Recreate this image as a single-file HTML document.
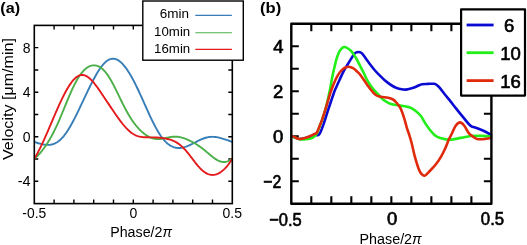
<!DOCTYPE html>
<html><head><meta charset="utf-8">
<style>
html,body{margin:0;padding:0;background:#fff;}
body{width:527px;height:245px;overflow:hidden;}
svg{display:block;font-family:"Liberation Sans", sans-serif;will-change:transform;}
</style></head><body>
<svg width="527" height="245" viewBox="0 0 527 245">
<rect width="527" height="245" fill="#fff"/>
<!-- Plot A -->
<path d="M54.10,203.60V199.60 M54.10,25.40V29.40 M73.90,203.60V199.60 M73.90,25.40V29.40 M93.70,203.60V199.60 M93.70,25.40V29.40 M113.50,203.60V199.60 M113.50,25.40V29.40 M133.30,203.60V199.60 M133.30,25.40V29.40 M153.10,203.60V199.60 M153.10,25.40V29.40 M172.90,203.60V199.60 M172.90,25.40V29.40 M192.70,203.60V199.60 M192.70,25.40V29.40 M212.50,203.60V199.60 M212.50,25.40V29.40 M34.30,47.67H38.30 M232.30,47.67H228.30 M34.30,69.95H38.30 M232.30,69.95H228.30 M34.30,92.22H38.30 M232.30,92.22H228.30 M34.30,114.50H38.30 M232.30,114.50H228.30 M34.30,136.78H38.30 M232.30,136.78H228.30 M34.30,159.05H38.30 M232.30,159.05H228.30 M34.30,181.32H38.30 M232.30,181.32H228.30" stroke="#000" stroke-width="1.4" fill="none"/>
<g fill="none" stroke-linejoin="round" stroke-linecap="butt">
<path d="M34.30,141.91 L35.13,142.18 L35.96,142.46 L36.79,142.72 L37.61,142.98 L38.44,143.23 L39.27,143.47 L40.10,143.69 L40.93,143.91 L41.76,144.10 L42.58,144.28 L43.41,144.44 L44.24,144.58 L45.07,144.69 L45.90,144.78 L46.73,144.84 L47.56,144.87 L48.38,144.87 L49.21,144.83 L50.04,144.75 L50.87,144.64 L51.70,144.47 L52.53,144.27 L53.35,144.01 L54.18,143.70 L55.01,143.34 L55.84,142.93 L56.67,142.46 L57.50,141.93 L58.33,141.34 L59.15,140.70 L59.98,139.99 L60.81,139.22 L61.64,138.40 L62.47,137.51 L63.30,136.56 L64.12,135.55 L64.95,134.48 L65.78,133.36 L66.61,132.18 L67.44,130.95 L68.27,129.66 L69.09,128.33 L69.92,126.95 L70.75,125.52 L71.58,124.06 L72.41,122.55 L73.24,121.01 L74.07,119.43 L74.89,117.83 L75.72,116.19 L76.55,114.53 L77.38,112.85 L78.21,111.15 L79.04,109.43 L79.86,107.70 L80.69,105.96 L81.52,104.21 L82.35,102.45 L83.18,100.69 L84.01,98.93 L84.84,97.17 L85.66,95.41 L86.49,93.66 L87.32,91.92 L88.15,90.20 L88.98,88.49 L89.81,86.79 L90.63,85.12 L91.46,83.47 L92.29,81.85 L93.12,80.25 L93.95,78.69 L94.78,77.17 L95.61,75.68 L96.43,74.24 L97.26,72.84 L98.09,71.49 L98.92,70.19 L99.75,68.95 L100.58,67.77 L101.40,66.64 L102.23,65.58 L103.06,64.59 L103.89,63.67 L104.72,62.82 L105.55,62.04 L106.38,61.34 L107.20,60.72 L108.03,60.18 L108.86,59.72 L109.69,59.34 L110.52,59.05 L111.35,58.84 L112.17,58.71 L113.00,58.67 L113.83,58.71 L114.66,58.83 L115.49,59.03 L116.32,59.32 L117.15,59.68 L117.97,60.13 L118.80,60.65 L119.63,61.24 L120.46,61.91 L121.29,62.65 L122.12,63.46 L122.94,64.34 L123.77,65.28 L124.60,66.29 L125.43,67.35 L126.26,68.48 L127.09,69.66 L127.92,70.90 L128.74,72.19 L129.57,73.53 L130.40,74.92 L131.23,76.35 L132.06,77.83 L132.89,79.35 L133.71,80.92 L134.54,82.52 L135.37,84.15 L136.20,85.82 L137.03,87.52 L137.86,89.25 L138.68,91.01 L139.51,92.79 L140.34,94.59 L141.17,96.41 L142.00,98.24 L142.83,100.08 L143.66,101.93 L144.48,103.79 L145.31,105.65 L146.14,107.50 L146.97,109.35 L147.80,111.19 L148.63,113.01 L149.45,114.81 L150.28,116.60 L151.11,118.35 L151.94,120.08 L152.77,121.78 L153.60,123.44 L154.43,125.05 L155.25,126.63 L156.08,128.16 L156.91,129.64 L157.74,131.07 L158.57,132.44 L159.40,133.76 L160.22,135.02 L161.05,136.23 L161.88,137.37 L162.71,138.45 L163.54,139.47 L164.37,140.43 L165.20,141.33 L166.02,142.17 L166.85,142.95 L167.68,143.66 L168.51,144.32 L169.34,144.91 L170.17,145.45 L170.99,145.93 L171.82,146.36 L172.65,146.73 L173.48,147.05 L174.31,147.32 L175.14,147.54 L175.97,147.72 L176.79,147.85 L177.62,147.93 L178.45,147.97 L179.28,147.97 L180.11,147.93 L180.94,147.85 L181.76,147.73 L182.59,147.58 L183.42,147.40 L184.25,147.19 L185.08,146.95 L185.91,146.68 L186.74,146.38 L187.56,146.06 L188.39,145.72 L189.22,145.36 L190.05,144.98 L190.88,144.58 L191.71,144.18 L192.53,143.76 L193.36,143.33 L194.19,142.90 L195.02,142.47 L195.85,142.04 L196.68,141.61 L197.51,141.18 L198.33,140.76 L199.16,140.36 L199.99,139.96 L200.82,139.58 L201.65,139.22 L202.48,138.88 L203.30,138.56 L204.13,138.26 L204.96,137.99 L205.79,137.74 L206.62,137.52 L207.45,137.33 L208.27,137.17 L209.10,137.04 L209.93,136.94 L210.76,136.87 L211.59,136.83 L212.42,136.82 L213.25,136.83 L214.07,136.88 L214.90,136.95 L215.73,137.05 L216.56,137.17 L217.39,137.31 L218.22,137.47 L219.04,137.65 L219.87,137.85 L220.70,138.07 L221.53,138.30 L222.36,138.54 L223.19,138.80 L224.02,139.06 L224.84,139.33 L225.67,139.61 L226.50,139.89 L227.33,140.18 L228.16,140.47 L228.99,140.76 L229.81,141.05 L230.64,141.34 L231.47,141.62 L232.30,141.91" stroke="#377eb8" stroke-width="1.9"/>
<path d="M34.30,158.65 L35.13,157.99 L35.96,157.29 L36.79,156.53 L37.61,155.73 L38.44,154.88 L39.27,153.99 L40.10,153.06 L40.93,152.09 L41.76,151.08 L42.58,150.03 L43.41,148.94 L44.24,147.81 L45.07,146.65 L45.90,145.44 L46.73,144.20 L47.56,142.92 L48.38,141.59 L49.21,140.22 L50.04,138.81 L50.87,137.36 L51.70,135.86 L52.53,134.31 L53.35,132.72 L54.18,131.08 L55.01,129.40 L55.84,127.67 L56.67,125.90 L57.50,124.09 L58.33,122.24 L59.15,120.35 L59.98,118.43 L60.81,116.48 L61.64,114.50 L62.47,112.50 L63.30,110.48 L64.12,108.46 L64.95,106.43 L65.78,104.39 L66.61,102.37 L67.44,100.36 L68.27,98.36 L69.09,96.40 L69.92,94.46 L70.75,92.56 L71.58,90.70 L72.41,88.88 L73.24,87.12 L74.07,85.42 L74.89,83.77 L75.72,82.19 L76.55,80.67 L77.38,79.22 L78.21,77.85 L79.04,76.54 L79.86,75.31 L80.69,74.15 L81.52,73.07 L82.35,72.06 L83.18,71.13 L84.01,70.26 L84.84,69.47 L85.66,68.75 L86.49,68.11 L87.32,67.53 L88.15,67.02 L88.98,66.58 L89.81,66.20 L90.63,65.90 L91.46,65.66 L92.29,65.48 L93.12,65.38 L93.95,65.34 L94.78,65.36 L95.61,65.46 L96.43,65.62 L97.26,65.86 L98.09,66.16 L98.92,66.54 L99.75,66.99 L100.58,67.52 L101.40,68.12 L102.23,68.79 L103.06,69.54 L103.89,70.37 L104.72,71.27 L105.55,72.24 L106.38,73.29 L107.20,74.41 L108.03,75.60 L108.86,76.86 L109.69,78.18 L110.52,79.57 L111.35,81.00 L112.17,82.50 L113.00,84.03 L113.83,85.61 L114.66,87.23 L115.49,88.88 L116.32,90.55 L117.15,92.24 L117.97,93.95 L118.80,95.66 L119.63,97.38 L120.46,99.09 L121.29,100.79 L122.12,102.47 L122.94,104.14 L123.77,105.78 L124.60,107.39 L125.43,108.97 L126.26,110.51 L127.09,112.02 L127.92,113.48 L128.74,114.91 L129.57,116.29 L130.40,117.63 L131.23,118.92 L132.06,120.17 L132.89,121.37 L133.71,122.53 L134.54,123.65 L135.37,124.72 L136.20,125.75 L137.03,126.74 L137.86,127.69 L138.68,128.60 L139.51,129.48 L140.34,130.31 L141.17,131.11 L142.00,131.87 L142.83,132.59 L143.66,133.28 L144.48,133.93 L145.31,134.55 L146.14,135.13 L146.97,135.67 L147.80,136.17 L148.63,136.63 L149.45,137.05 L150.28,137.44 L151.11,137.78 L151.94,138.08 L152.77,138.35 L153.60,138.57 L154.43,138.75 L155.25,138.89 L156.08,138.99 L156.91,139.06 L157.74,139.09 L158.57,139.08 L159.40,139.05 L160.22,138.98 L161.05,138.89 L161.88,138.77 L162.71,138.64 L163.54,138.48 L164.37,138.32 L165.20,138.15 L166.02,137.97 L166.85,137.79 L167.68,137.61 L168.51,137.44 L169.34,137.28 L170.17,137.13 L170.99,137.00 L171.82,136.89 L172.65,136.80 L173.48,136.73 L174.31,136.69 L175.14,136.67 L175.97,136.69 L176.79,136.73 L177.62,136.80 L178.45,136.90 L179.28,137.03 L180.11,137.19 L180.94,137.37 L181.76,137.58 L182.59,137.81 L183.42,138.07 L184.25,138.35 L185.08,138.65 L185.91,138.97 L186.74,139.31 L187.56,139.66 L188.39,140.04 L189.22,140.42 L190.05,140.82 L190.88,141.24 L191.71,141.67 L192.53,142.11 L193.36,142.56 L194.19,143.03 L195.02,143.52 L195.85,144.01 L196.68,144.53 L197.51,145.06 L198.33,145.60 L199.16,146.16 L199.99,146.74 L200.82,147.34 L201.65,147.95 L202.48,148.57 L203.30,149.22 L204.13,149.87 L204.96,150.55 L205.79,151.23 L206.62,151.92 L207.45,152.61 L208.27,153.31 L209.10,154.01 L209.93,154.71 L210.76,155.40 L211.59,156.08 L212.42,156.74 L213.25,157.39 L214.07,158.00 L214.90,158.59 L215.73,159.15 L216.56,159.66 L217.39,160.14 L218.22,160.57 L219.04,160.94 L219.87,161.27 L220.70,161.53 L221.53,161.74 L222.36,161.89 L223.19,161.97 L224.02,161.99 L224.84,161.94 L225.67,161.83 L226.50,161.65 L227.33,161.40 L228.16,161.10 L228.99,160.73 L229.81,160.29 L230.64,159.80 L231.47,159.25 L232.30,158.65" stroke="#4daf4a" stroke-width="1.9"/>
<path d="M34.30,158.73 L35.13,157.37 L35.96,155.95 L36.79,154.48 L37.61,152.96 L38.44,151.40 L39.27,149.79 L40.10,148.14 L40.93,146.45 L41.76,144.71 L42.58,142.95 L43.41,141.15 L44.24,139.32 L45.07,137.47 L45.90,135.59 L46.73,133.70 L47.56,131.78 L48.38,129.86 L49.21,127.92 L50.04,125.97 L50.87,124.03 L51.70,122.08 L52.53,120.13 L53.35,118.19 L54.18,116.25 L55.01,114.33 L55.84,112.42 L56.67,110.53 L57.50,108.65 L58.33,106.79 L59.15,104.96 L59.98,103.16 L60.81,101.38 L61.64,99.64 L62.47,97.93 L63.30,96.26 L64.12,94.63 L64.95,93.04 L65.78,91.50 L66.61,90.01 L67.44,88.57 L68.27,87.18 L69.09,85.86 L69.92,84.59 L70.75,83.39 L71.58,82.26 L72.41,81.21 L73.24,80.22 L74.07,79.32 L74.89,78.49 L75.72,77.75 L76.55,77.09 L77.38,76.53 L78.21,76.04 L79.04,75.65 L79.86,75.35 L80.69,75.14 L81.52,75.03 L82.35,75.00 L83.18,75.06 L84.01,75.22 L84.84,75.46 L85.66,75.78 L86.49,76.19 L87.32,76.67 L88.15,77.24 L88.98,77.87 L89.81,78.57 L90.63,79.34 L91.46,80.17 L92.29,81.05 L93.12,81.99 L93.95,82.97 L94.78,83.99 L95.61,85.06 L96.43,86.15 L97.26,87.28 L98.09,88.43 L98.92,89.60 L99.75,90.79 L100.58,92.00 L101.40,93.21 L102.23,94.44 L103.06,95.68 L103.89,96.92 L104.72,98.16 L105.55,99.41 L106.38,100.66 L107.20,101.90 L108.03,103.15 L108.86,104.39 L109.69,105.63 L110.52,106.87 L111.35,108.10 L112.17,109.33 L113.00,110.55 L113.83,111.76 L114.66,112.97 L115.49,114.17 L116.32,115.35 L117.15,116.53 L117.97,117.69 L118.80,118.84 L119.63,119.96 L120.46,121.07 L121.29,122.16 L122.12,123.22 L122.94,124.26 L123.77,125.26 L124.60,126.24 L125.43,127.18 L126.26,128.08 L127.09,128.94 L127.92,129.77 L128.74,130.55 L129.57,131.29 L130.40,131.98 L131.23,132.63 L132.06,133.23 L132.89,133.78 L133.71,134.28 L134.54,134.74 L135.37,135.16 L136.20,135.52 L137.03,135.85 L137.86,136.13 L138.68,136.38 L139.51,136.59 L140.34,136.77 L141.17,136.91 L142.00,137.03 L142.83,137.12 L143.66,137.19 L144.48,137.24 L145.31,137.28 L146.14,137.30 L146.97,137.32 L147.80,137.32 L148.63,137.33 L149.45,137.33 L150.28,137.33 L151.11,137.33 L151.94,137.34 L152.77,137.35 L153.60,137.37 L154.43,137.39 L155.25,137.42 L156.08,137.46 L156.91,137.51 L157.74,137.57 L158.57,137.63 L159.40,137.71 L160.22,137.79 L161.05,137.88 L161.88,137.99 L162.71,138.10 L163.54,138.22 L164.37,138.35 L165.20,138.49 L166.02,138.65 L166.85,138.82 L167.68,139.01 L168.51,139.21 L169.34,139.43 L170.17,139.67 L170.99,139.93 L171.82,140.22 L172.65,140.54 L173.48,140.88 L174.31,141.26 L175.14,141.67 L175.97,142.12 L176.79,142.60 L177.62,143.12 L178.45,143.69 L179.28,144.29 L180.11,144.94 L180.94,145.63 L181.76,146.37 L182.59,147.15 L183.42,147.97 L184.25,148.83 L185.08,149.73 L185.91,150.66 L186.74,151.63 L187.56,152.63 L188.39,153.65 L189.22,154.70 L190.05,155.76 L190.88,156.84 L191.71,157.92 L192.53,159.01 L193.36,160.10 L194.19,161.18 L195.02,162.24 L195.85,163.29 L196.68,164.32 L197.51,165.32 L198.33,166.29 L199.16,167.22 L199.99,168.11 L200.82,168.96 L201.65,169.75 L202.48,170.50 L203.30,171.20 L204.13,171.84 L204.96,172.42 L205.79,172.94 L206.62,173.40 L207.45,173.81 L208.27,174.15 L209.10,174.43 L209.93,174.64 L210.76,174.80 L211.59,174.90 L212.42,174.93 L213.25,174.91 L214.07,174.82 L214.90,174.68 L215.73,174.48 L216.56,174.22 L217.39,173.91 L218.22,173.53 L219.04,173.11 L219.87,172.62 L220.70,172.09 L221.53,171.49 L222.36,170.84 L223.19,170.14 L224.02,169.38 L224.84,168.57 L225.67,167.70 L226.50,166.77 L227.33,165.79 L228.16,164.75 L228.99,163.66 L229.81,162.51 L230.64,161.30 L231.47,160.05 L232.30,158.73" stroke="#e41a1c" stroke-width="1.9"/>
</g>
<rect x="34.3" y="25.4" width="198.00" height="178.20" fill="none" stroke="#000" stroke-width="1.6"/>
<g font-size="14" fill="#000">
<text x="34.3" y="218.2" text-anchor="middle" textLength="23.9" lengthAdjust="spacingAndGlyphs">-0.5</text>
<text x="133.30" y="218.2" text-anchor="middle">0</text>
<text x="232.3" y="218.2" text-anchor="middle">0.5</text>
<text x="30.6" y="52.77" text-anchor="end">8</text>
<text x="30.6" y="97.32" text-anchor="end">4</text>
<text x="30.6" y="141.88" text-anchor="end">0</text>
<text x="30.6" y="186.42" text-anchor="end" textLength="12.9" lengthAdjust="spacingAndGlyphs">-4</text>
</g>
<text x="110.2" y="236.6" font-size="14" textLength="61.8" lengthAdjust="spacingAndGlyphs">Phase/2<tspan font-style="italic">π</tspan></text>
<text transform="translate(12.6,99) rotate(-90)" text-anchor="middle" font-size="15" textLength="122" lengthAdjust="spacingAndGlyphs">Velocity [μm/min]</text>
<text x="0.3" y="13.0" font-size="13.9" font-weight="bold" textLength="19.8" lengthAdjust="spacingAndGlyphs">(a)</text>
<!-- legend A -->
<rect x="142.8" y="1" width="100.5" height="59.2" fill="#fff" stroke="#000" stroke-width="1.4"/>
<g font-size="13.3" text-anchor="end">
<text x="189" y="18" textLength="29.3" lengthAdjust="spacingAndGlyphs">6min</text>
<text x="190.2" y="36.1" textLength="36.1" lengthAdjust="spacingAndGlyphs">10min</text>
<text x="190.2" y="52.6" textLength="36.1" lengthAdjust="spacingAndGlyphs">16min</text>
</g>
<path d="M195.3,15.4H231.9" stroke="#377eb8" stroke-width="1.15"/>
<path d="M195.3,32.7H231.9" stroke="#4daf4a" stroke-width="1.15"/>
<path d="M195.3,49.4H231.9" stroke="#e41a1c" stroke-width="1.15"/>

<!-- Plot B -->
<path d="M311.31,203.70V196.20 M311.31,23.80V31.30 M331.32,203.70V196.20 M331.32,23.80V31.30 M351.33,203.70V196.20 M351.33,23.80V31.30 M371.34,203.70V196.20 M371.34,23.80V31.30 M391.35,203.70V196.20 M391.35,23.80V31.30 M411.36,203.70V196.20 M411.36,23.80V31.30 M431.37,203.70V196.20 M431.37,23.80V31.30 M451.38,203.70V196.20 M451.38,23.80V31.30 M471.39,203.70V196.20 M471.39,23.80V31.30 M291.30,46.29H298.80 M491.40,46.29H483.90 M291.30,68.77H298.80 M491.40,68.77H483.90 M291.30,91.26H298.80 M491.40,91.26H483.90 M291.30,113.75H298.80 M491.40,113.75H483.90 M291.30,136.24H298.80 M491.40,136.24H483.90 M291.30,158.72H298.80 M491.40,158.72H483.90 M291.30,181.21H298.80 M491.40,181.21H483.90" stroke="#000" stroke-width="2.1" fill="none" stroke-linecap="butt"/>
<g fill="none" stroke-linejoin="round" stroke-linecap="round">
<path d="M291.50,136.30 C292.83,136.75 297.15,138.72 299.50,139.00 C301.85,139.28 303.77,138.45 305.60,138.00 C307.43,137.55 309.02,136.83 310.50,136.30 C311.98,135.77 313.05,135.12 314.50,134.80 C315.95,134.48 317.70,136.13 319.20,134.40 C320.70,132.67 322.10,128.22 323.50,124.40 C324.90,120.58 326.30,115.48 327.60,111.50 C328.90,107.52 330.28,103.50 331.30,100.50 C332.32,97.50 333.00,95.45 333.70,93.50 C334.40,91.55 334.53,91.05 335.50,88.80 C336.47,86.55 338.20,82.83 339.50,80.00 C340.80,77.17 342.00,74.30 343.30,71.80 C344.60,69.30 345.98,67.20 347.30,65.00 C348.62,62.80 350.00,60.50 351.20,58.60 C352.40,56.70 353.53,54.67 354.50,53.60 C355.47,52.53 356.08,52.43 357.00,52.20 C357.92,51.97 359.13,51.97 360.00,52.20 C360.87,52.43 361.20,52.50 362.20,53.60 C363.20,54.70 364.73,57.07 366.00,58.80 C367.27,60.53 368.30,62.05 369.80,64.00 C371.30,65.95 373.23,68.47 375.00,70.50 C376.77,72.53 378.73,74.53 380.40,76.20 C382.07,77.87 383.45,79.18 385.00,80.50 C386.55,81.82 388.05,82.98 389.70,84.10 C391.35,85.22 393.18,86.40 394.90,87.20 C396.62,88.00 398.15,88.50 400.00,88.90 C401.85,89.30 403.77,89.78 406.00,89.60 C408.23,89.42 411.40,88.43 413.40,87.80 C415.40,87.17 416.57,86.40 418.00,85.80 C419.43,85.20 420.33,84.52 422.00,84.20 C423.67,83.88 425.97,83.97 428.00,83.90 C430.03,83.83 432.70,83.57 434.20,83.80 C435.70,84.03 436.03,84.57 437.00,85.30 C437.97,86.03 438.62,86.58 440.00,88.20 C441.38,89.82 443.55,92.80 445.30,95.00 C447.05,97.20 448.65,99.08 450.50,101.40 C452.35,103.72 454.33,106.32 456.40,108.90 C458.47,111.48 460.87,114.40 462.90,116.90 C464.93,119.40 467.17,122.32 468.60,123.90 C470.03,125.48 470.43,125.80 471.50,126.40 C472.57,127.00 473.42,126.95 475.00,127.50 C476.58,128.05 479.17,128.95 481.00,129.70 C482.83,130.45 484.32,131.15 486.00,132.00 C487.68,132.85 490.25,134.33 491.10,134.80" stroke="#0a0ad2" stroke-width="2.6"/>
<path d="M291.50,136.20 C292.83,136.70 297.15,138.68 299.50,139.20 C301.85,139.72 303.77,139.40 305.60,139.30 C307.43,139.20 309.10,139.02 310.50,138.60 C311.90,138.18 312.93,137.65 314.00,136.80 C315.07,135.95 315.97,135.22 316.90,133.50 C317.83,131.78 318.68,128.92 319.60,126.50 C320.52,124.08 321.28,122.42 322.40,119.00 C323.52,115.58 325.27,109.83 326.30,106.00 C327.33,102.17 327.95,98.92 328.60,96.00 C329.25,93.08 329.60,91.58 330.20,88.50 C330.80,85.42 331.48,81.08 332.20,77.50 C332.92,73.92 333.73,70.25 334.50,67.00 C335.27,63.75 335.88,60.75 336.80,58.00 C337.72,55.25 338.73,52.33 340.00,50.50 C341.27,48.67 342.55,46.92 344.40,47.00 C346.25,47.08 349.17,49.17 351.10,51.00 C353.03,52.83 354.52,55.57 356.00,58.00 C357.48,60.43 358.70,63.10 360.00,65.60 C361.30,68.10 362.58,70.55 363.80,73.00 C365.02,75.45 365.80,77.72 367.30,80.30 C368.80,82.88 370.97,86.13 372.80,88.50 C374.63,90.87 376.60,92.67 378.30,94.50 C380.00,96.33 381.02,97.97 383.00,99.50 C384.98,101.03 387.30,102.68 390.20,103.70 C393.10,104.72 397.77,105.12 400.40,105.60 C403.03,106.08 404.30,106.23 406.00,106.60 C407.70,106.97 409.15,107.18 410.60,107.80 C412.05,108.42 413.02,108.98 414.70,110.30 C416.38,111.62 418.98,113.60 420.70,115.70 C422.42,117.80 423.45,120.52 425.00,122.90 C426.55,125.28 428.37,127.95 430.00,130.00 C431.63,132.05 433.10,133.88 434.80,135.20 C436.50,136.52 437.60,137.15 440.20,137.90 C442.80,138.65 447.00,139.70 450.40,139.70 C453.80,139.70 457.20,138.52 460.60,137.90 C464.00,137.28 467.35,136.33 470.80,136.00 C474.25,135.67 477.92,135.85 481.30,135.90 C484.68,135.95 489.47,136.23 491.10,136.30" stroke="#22ee18" stroke-width="2.6"/>
<path d="M291.50,135.90 C292.02,136.10 293.27,136.58 294.60,137.10 C295.93,137.62 297.67,138.88 299.50,139.00 C301.33,139.12 303.77,138.32 305.60,137.80 C307.43,137.28 309.10,136.50 310.50,135.90 C311.90,135.30 312.93,134.78 314.00,134.20 C315.07,133.62 315.97,133.77 316.90,132.40 C317.83,131.03 318.68,128.25 319.60,126.00 C320.52,123.75 321.17,122.53 322.40,118.90 C323.63,115.27 325.73,108.35 327.00,104.20 C328.27,100.05 329.05,96.95 330.00,94.00 C330.95,91.05 331.82,88.80 332.70,86.50 C333.58,84.20 334.45,82.07 335.30,80.20 C336.15,78.33 336.93,76.75 337.80,75.30 C338.67,73.85 339.63,72.55 340.50,71.50 C341.37,70.45 342.08,69.70 343.00,69.00 C343.92,68.30 345.07,67.67 346.00,67.30 C346.93,66.93 347.43,66.65 348.60,66.80 C349.77,66.95 351.60,67.42 353.00,68.20 C354.40,68.98 355.83,70.45 357.00,71.50 C358.17,72.55 358.28,72.27 360.00,74.50 C361.72,76.73 365.17,81.98 367.30,84.90 C369.43,87.82 371.27,90.23 372.80,92.00 C374.33,93.77 375.13,94.70 376.50,95.50 C377.87,96.30 379.08,96.42 381.00,96.80 C382.92,97.18 386.00,97.35 388.00,97.80 C390.00,98.25 391.62,98.72 393.00,99.50 C394.38,100.28 395.02,100.98 396.30,102.50 C397.58,104.02 399.37,105.92 400.70,108.60 C402.03,111.28 403.23,115.27 404.30,118.60 C405.37,121.93 406.27,125.87 407.10,128.60 C407.93,131.33 408.57,132.68 409.30,135.00 C410.03,137.32 410.58,138.93 411.50,142.50 C412.42,146.07 413.57,151.90 414.80,156.40 C416.03,160.90 417.78,166.57 418.90,169.50 C420.02,172.43 420.52,172.98 421.50,174.00 C422.48,175.02 423.42,176.10 424.80,175.60 C426.18,175.10 427.88,172.98 429.80,171.00 C431.72,169.02 434.40,166.15 436.30,163.70 C438.20,161.25 439.70,158.88 441.20,156.30 C442.70,153.72 444.07,150.92 445.30,148.20 C446.53,145.48 447.58,142.28 448.60,140.00 C449.62,137.72 450.22,136.88 451.40,134.50 C452.58,132.12 454.27,127.72 455.70,125.70 C457.13,123.68 458.57,122.40 460.00,122.40 C461.43,122.40 462.87,123.95 464.30,125.70 C465.73,127.45 467.17,131.08 468.60,132.90 C470.03,134.72 471.50,135.60 472.90,136.60 C474.30,137.60 475.48,138.47 477.00,138.90 C478.52,139.33 479.65,139.37 482.00,139.20 C484.35,139.03 489.58,138.12 491.10,137.90" stroke="#e02a0c" stroke-width="2.6"/>
</g>
<rect x="291.3" y="23.8" width="200.10" height="179.90" fill="none" stroke="#000" stroke-width="2.4" stroke-linejoin="round"/>
<g font-size="18.5" fill="#000" stroke="#000" stroke-width="0.65">
<text x="285.5" y="225.6" text-anchor="middle" textLength="32.6" lengthAdjust="spacingAndGlyphs">−0.5</text>
<text x="392.2" y="225.1" text-anchor="middle">0</text>
<text x="492.5" y="225.1" text-anchor="middle" textLength="23.3" lengthAdjust="spacingAndGlyphs">0.5</text>
<text x="283.6" y="53.29" text-anchor="end">4</text>
<text x="283.4" y="98.26" text-anchor="end">2</text>
<text x="283.4" y="143.24" text-anchor="end">0</text>
<text x="281.4" y="188.21" text-anchor="end" textLength="18.1" lengthAdjust="spacingAndGlyphs">−2</text>
</g>
<text x="359.5" y="243.8" font-size="14" textLength="62.2" lengthAdjust="spacingAndGlyphs">Phase/2<tspan font-style="italic">π</tspan></text>
<text x="260.1" y="12.8" font-size="13.9" font-weight="bold" textLength="21.2" lengthAdjust="spacingAndGlyphs">(b)</text>
<!-- legend B -->
<rect x="461.1" y="9.3" width="63.9" height="86.3" fill="#fff" stroke="#000" stroke-width="2.2" stroke-linejoin="round"/>
<path d="M466.6,25H493.6" stroke="#0a0ad2" stroke-width="2.8"/>
<path d="M466.6,52.7H493.6" stroke="#22ee18" stroke-width="2.8"/>
<path d="M466.6,80.6H493.6" stroke="#e02a0c" stroke-width="2.8"/>
<g font-size="18.5" stroke="#000" stroke-width="0.65">
<text x="504" y="31.6">6</text>
<text x="500.3" y="59.6">10</text>
<text x="500.3" y="87.9">16</text>
</g>
</svg>
</body></html>
